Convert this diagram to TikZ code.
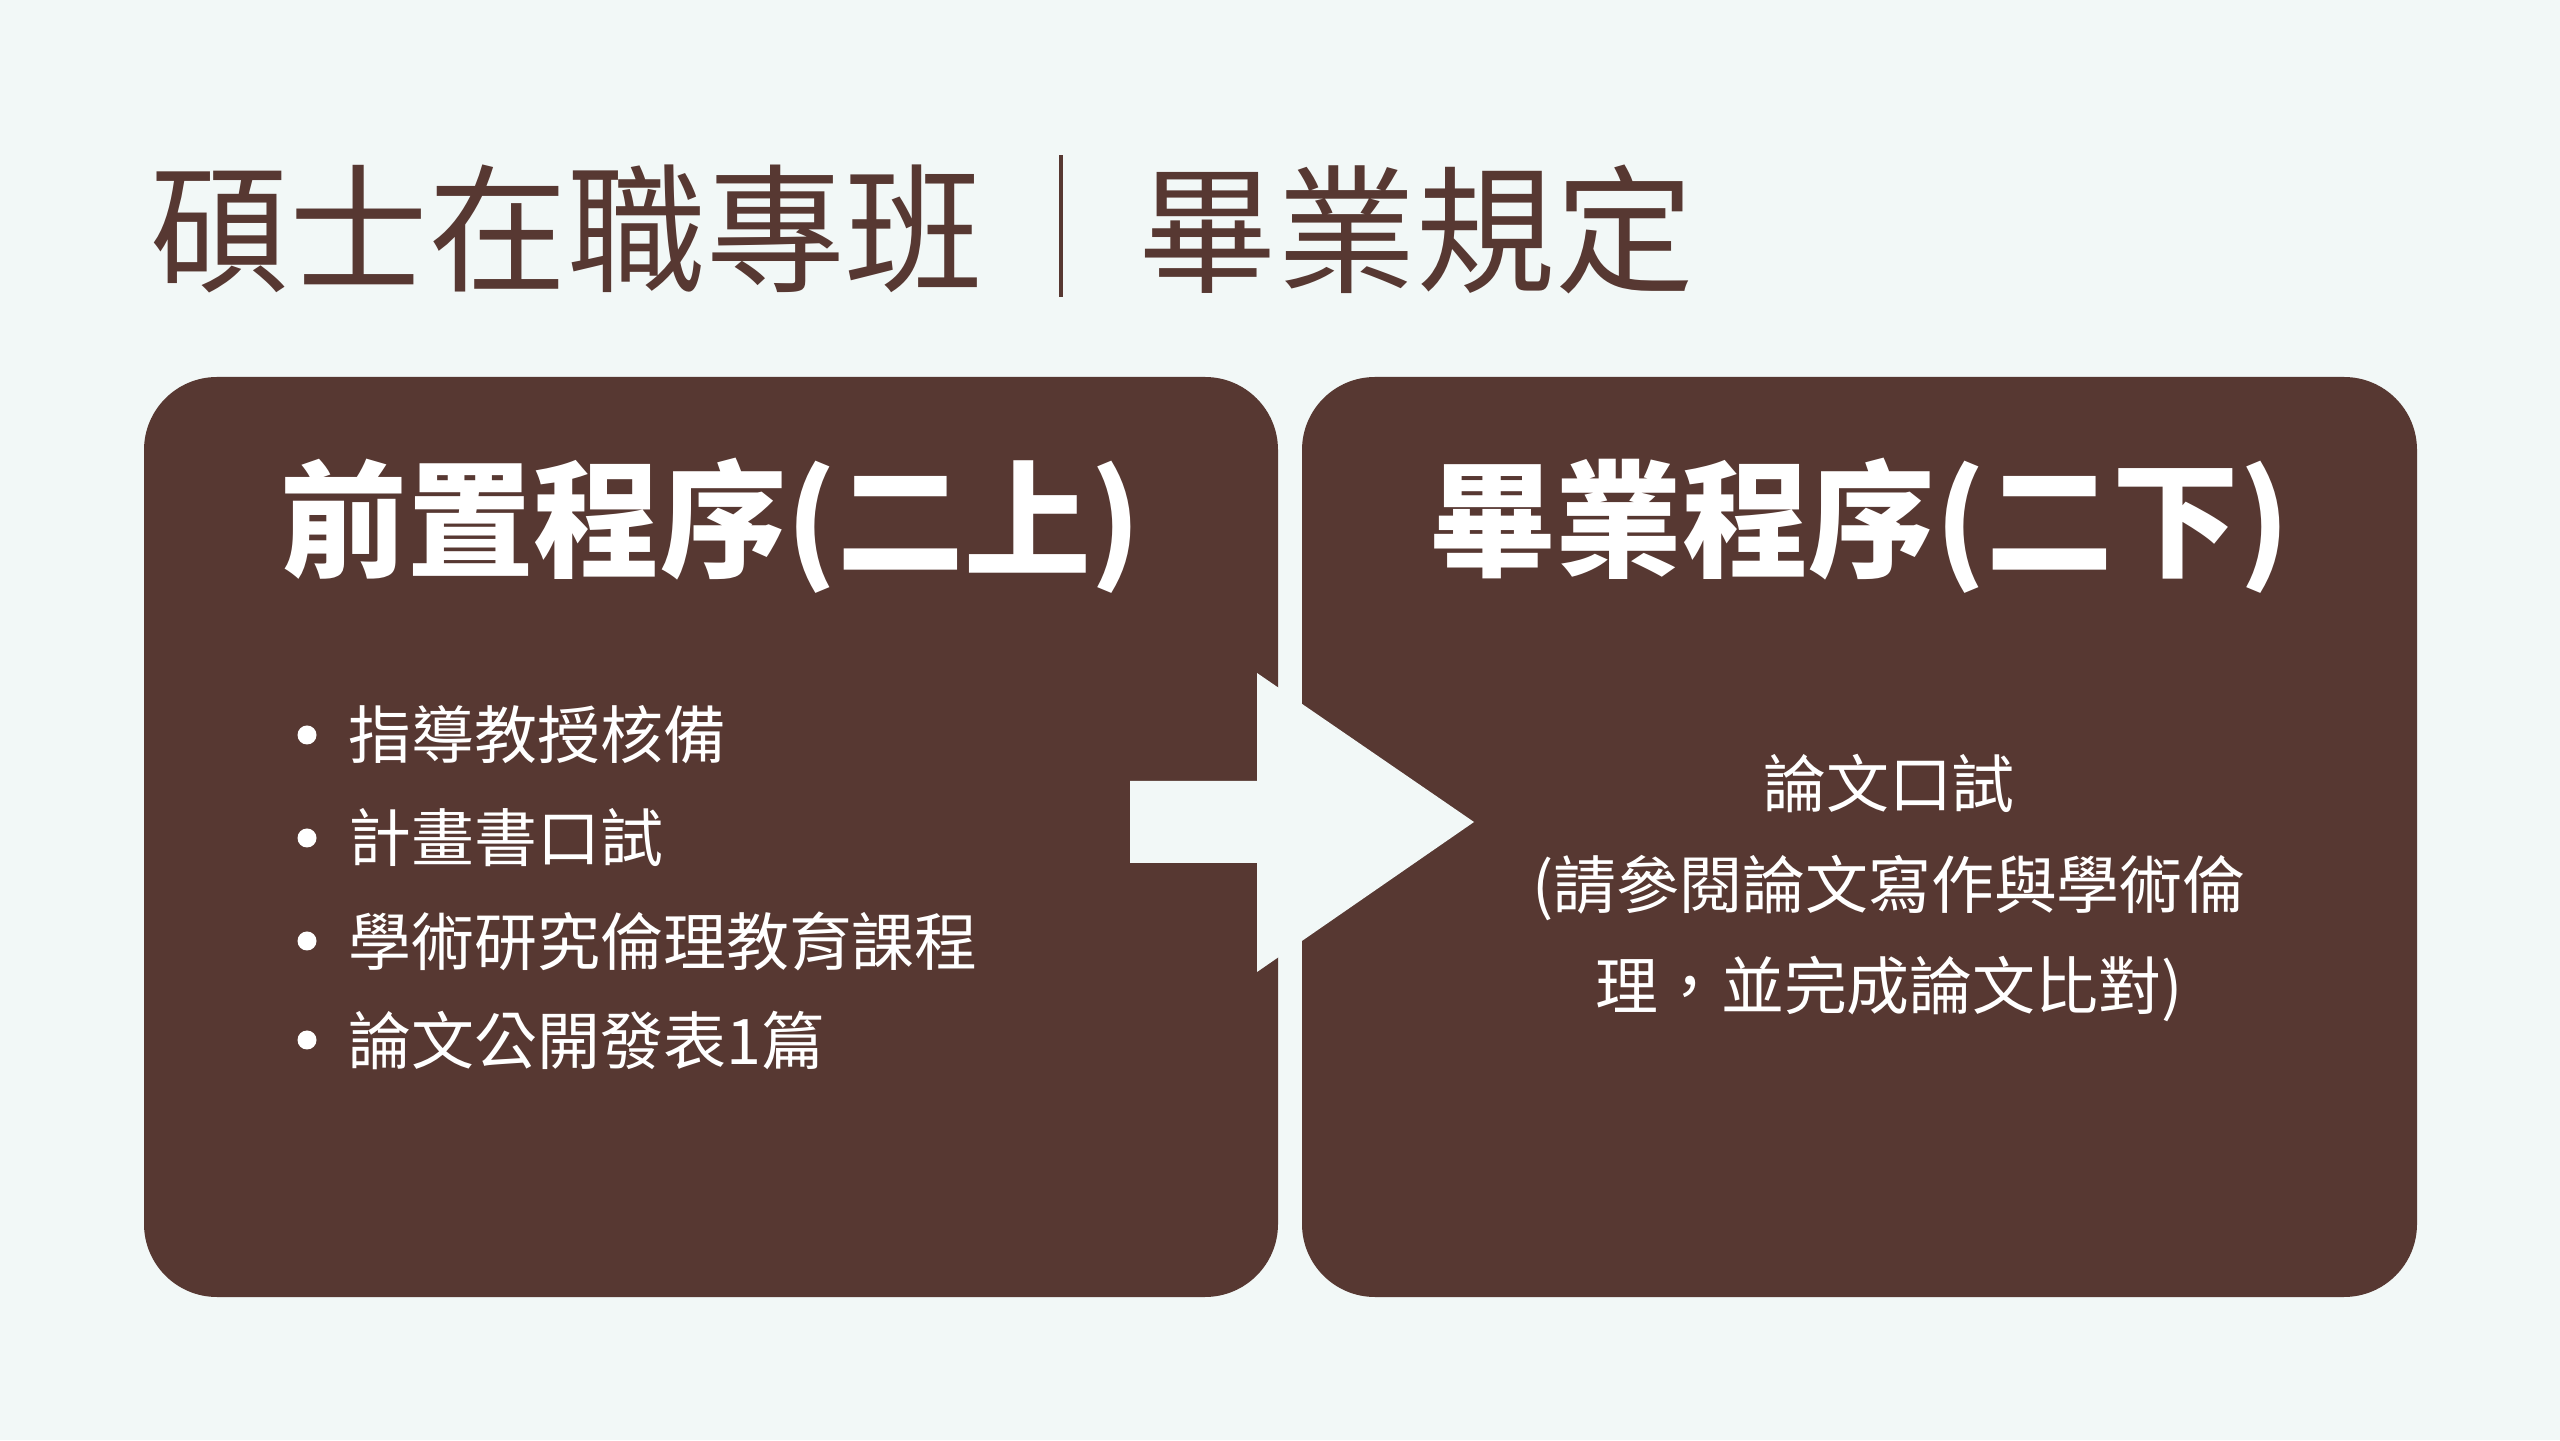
\documentclass[tikz,border=0pt]{standalone}
\usepackage{fontspec}
\setmainfont{Noto Sans CJK TC}
\definecolor{bgc}{HTML}{F2F8F7}
\definecolor{brownc}{HTML}{573832}
\tikzset{
  panel/.style={fill=brownc, draw=none, rounded corners=0.73cm},
  titletext/.style={text=brownc, font=\fontsize{39.5}{44}\selectfont, inner sep=0, anchor=west},
  headtext/.style={text=white, font=\fontsize{36}{42}\selectfont\bfseries, inner sep=0},
  itemtext/.style={text=white, font=\fontsize{17.9}{22}\selectfont, inner sep=0, anchor=west},
  bodytext/.style={text=white, font=\fontsize{17.9}{28.7}\selectfont, inner sep=0, align=center},
  dot/.style={circle, fill=white, inner sep=0, minimum size=0.19cm},
}
\begin{document}
\begin{tikzpicture}
\fill[bgc] (0,0) rectangle (25.6,14.4);
\useasboundingbox (0,0) rectangle (25.6,14.4);
% title
\node[titletext] (t1) at (1.50,12.11) {碩士在職專班};
\fill[brownc] (10.59,11.43) rectangle (10.63,12.85);
\node[titletext] (t2) at (11.38,12.11) {畢業規定};
% panels
\path[panel] (1.44,1.43) rectangle (12.78,10.63);
\path[panel] (13.02,1.43) rectangle (24.17,10.63);
\node[headtext] (h1) at (7.11,9.14) {前置程序(二上)};
\node[headtext] (h2) at (18.595,9.14) {畢業程序(二下)};
% bullets
\foreach \y/\t [count=\i] in {7.05/指導教授核備, 6.02/計畫書口試, 4.99/學術研究倫理教育課程, 4.00/論文公開發表1篇}{
  \node[dot] (d\i) at (3.07,\y) {};
  \node[itemtext] (i\i) at (3.48,\y) {\t};
}
\node[bodytext] (b) at (18.89,5.52) {論文口試\\(請參閱論文寫作與學術倫\\理，並完成論文比對)};
% arrow
\fill[bgc] (11.30,6.59) -- (12.57,6.59) -- (12.57,7.67) -- (14.74,6.18)
  -- (12.57,4.68) -- (12.57,5.77) -- (11.30,5.77) -- cycle;
\end{tikzpicture}
\end{document}
